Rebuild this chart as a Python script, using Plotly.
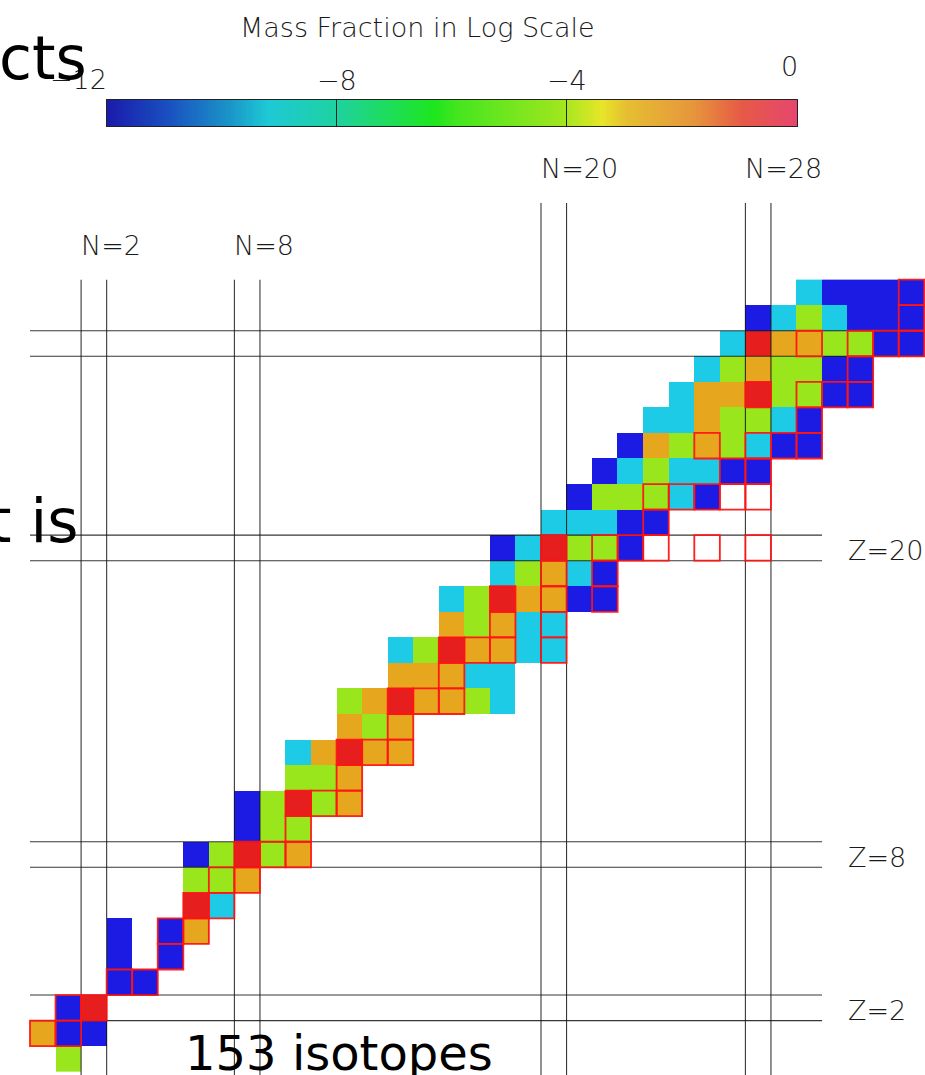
import numpy as np
import plotly.graph_objects as go

# ---------------- data ----------------
# one row per proton number Z: first neutron number N and colour class of each isotope
row_Z = list(range(0, 31))
row_first_N = [1, 0, 1, 3, 3, 3, 6, 6, 6, 8, 8, 10, 10, 12, 12, 14, 14, 16, 16, 18,
               18, 20, 21, 22, 23, 24, 25, 26, 27, 28, 30]
# B ~ 1e-10, C ~ 1e-8, G ~ 1e-6, O ~ 1e-3.5, R ~ 1e-1 ; W = stable isotope not in network ; . = none
row_codes = ["G", "OBB", "BR", "BB", "B.B", "B.BO", "RC", "GGO", "BGRGO", "BGG",
             "BGRGO", "GGO", "COROO", "OGO", "GOROOGC", "OOOCC", "CGROOCC", "OGOCC",
             "CGROOBB", "CGOCB", "BCRGGBW.W.W", "CCCBB", "BGGGCBWW", "BCGCCBB",
             "BOGOGCBB", "CCOGGCB", "COORGGBB", "CGOGGBB", "CROOGGBB", "BCGCBBB", "CBBBB"]
code_logX = {"B": -10.5, "C": -8.5, "G": -6.0, "O": -3.5, "R": -1.0}

# stable isotopes (outlined in red)
stable_Z = [1, 1, 2, 2, 3, 3, 4, 5, 5, 6, 6, 7, 7, 8, 8, 8, 9, 10, 10, 10, 11, 12, 12, 12,
            13, 14, 14, 14, 15, 16, 16, 16, 16, 17, 17, 18, 18, 18, 19, 19, 20, 20, 20, 20,
            20, 20, 21, 22, 22, 22, 22, 22, 23, 23, 24, 24, 24, 24, 25, 26, 26, 26, 26, 27,
            28, 28, 28, 28, 29, 30]
stable_N = [0, 1, 1, 2, 3, 4, 5, 5, 6, 6, 7, 7, 8, 8, 9, 10, 10, 10, 11, 12, 12, 12, 13, 14,
            14, 14, 15, 16, 16, 16, 17, 18, 20, 18, 20, 18, 20, 22, 20, 22, 20, 22, 23, 24,
            26, 28, 24, 24, 25, 26, 27, 28, 27, 28, 26, 28, 29, 30, 30, 28, 30, 31, 32, 32,
            30, 32, 33, 34, 34, 34]

# magic numbers
magic_N = [2, 8, 20, 28]
magic_N_top = [30.5, 30.5, 33.5, 33.5]
magic_Z = [2, 8, 20, 28]
magic_Z_end = [30.5, 30.5, 30.5, 36.5]
magic_Z_labelled = [2, 8, 20]

# colour bar
cbar_ticks = [-12, -8, -4, 0]
cbar_labels = ["\u221212", "\u22128", "\u22124", "0"]

# ---------------- build ----------------
N_max = 34
zmat = [[None] * (N_max + 1) for _ in row_Z]
for Z, n0, codes in zip(row_Z, row_first_N, row_codes):
    for i, c in enumerate(codes):
        if c in code_logX:
            zmat[Z][n0 + i] = code_logX[c]

cell_scale = [
    [0.0, "#1b1be3"], [0.2083, "#1b1be3"],
    [0.2083, "#1ecbe6"], [0.375, "#1ecbe6"],
    [0.375, "#98e61b"], [0.5833, "#98e61b"],
    [0.5833, "#e6a61e"], [0.8333, "#e6a61e"],
    [0.8333, "#e61e1e"], [1.0, "#e61e1e"],
]

bar_scale = [
    [0.0, "#1a1aaa"], [0.09, "#1a50c0"], [0.18, "#1a96c8"], [0.233, "#1ec8d6"],
    [0.333, "#1ed2a0"], [0.475, "#1ee61e"], [0.51, "#46e61e"], [0.66, "#a0e61e"],
    [0.717, "#e6e628"], [0.754, "#e6be32"], [0.85, "#e6963c"], [0.92, "#e65a46"],
    [1.0, "#e6466e"],
]

W, H = 925, 1075
px = 25.55
x0 = -0.5 - 30 / px
y_top_px = 1058.9

fig = go.Figure()
fig.add_trace(go.Heatmap(
    x=list(range(N_max + 1)), y=row_Z, z=zmat,
    colorscale=cell_scale, zmin=-12, zmax=0, showscale=False,
    hoverongaps=False, xaxis="x", yaxis="y"))

bar_x = np.linspace(cbar_ticks[0], cbar_ticks[-1], 400)
fig.add_trace(go.Heatmap(
    x=bar_x, y=[0], z=[bar_x], colorscale=bar_scale, zmin=-12, zmax=0,
    showscale=False, xaxis="x2", yaxis="y2", hoverinfo="skip"))

shapes = []
line_style = dict(color="rgba(20,20,20,0.85)", width=1.1)
for n, top in zip(magic_N, magic_N_top):
    for xv in (n - 0.5, n + 0.5):
        shapes.append(dict(type="line", xref="x", yref="y", x0=xv, x1=xv,
                           y0=-2, y1=top, line=line_style, layer="above"))
for zz, end in zip(magic_Z, magic_Z_end):
    for yv in (zz - 0.5, zz + 0.5):
        shapes.append(dict(type="line", xref="x", yref="y", x0=-0.5, x1=end,
                           y0=yv, y1=yv, line=line_style, layer="above"))
for zz, n in zip(stable_Z, stable_N):
    shapes.append(dict(type="rect", xref="x", yref="y", x0=n - 0.5, x1=n + 0.5,
                       y0=zz - 0.5, y1=zz + 0.5,
                       line=dict(color="rgba(255,20,20,0.95)", width=1.8), layer="above"))

label_font = dict(family="DejaVu Sans ExtraLight, DejaVu Sans Light, DejaVu Sans",
                  size=27, color="#1a1a1a", weight=200)
ann = []
for n, top in zip(magic_N, magic_N_top):
    ann.append(dict(x=n - 0.5, y=top + 1.35, xref="x", yref="y", text=f"N={n}",
                    showarrow=False, xanchor="left", yanchor="middle", xshift=-2,
                    font=label_font))
for zz in magic_Z_labelled:
    ann.append(dict(x=31.5, y=zz - 0.12, xref="x", yref="y", text=f"Z={zz}",
                    showarrow=False, xanchor="left", yanchor="middle", xshift=-2,
                    font=label_font))
# colour bar labels
for v, t in zip(cbar_ticks, cbar_labels):
    if v == cbar_ticks[0]:
        ann.append(dict(x=v, y=1 - 79 / H, xref="x2", yref="paper", text=t, showarrow=False,
                        xanchor="right", yanchor="middle", xshift=2, font=label_font))
    elif v == cbar_ticks[-1]:
        ann.append(dict(x=v, y=1 - 66 / H, xref="x2", yref="paper", text=t, showarrow=False,
                        xanchor="right", yanchor="middle", xshift=3, font=label_font))
    else:
        ann.append(dict(x=v, y=1 - 80 / H, xref="x2", yref="paper", text=t, showarrow=False,
                        xanchor="center", yanchor="middle", font=label_font))
ann.append(dict(x=417 / W, y=1 - 28 / H, xref="paper", yref="paper",
                text="Mass Fraction in Log Scale", showarrow=False,
                xanchor="center", yanchor="middle", font=label_font))

# overlaid slide text
slide_font = dict(family="DejaVu Sans", size=60, color="#000000")
ann.append(dict(x=89 / W, y=1 - 58 / H, xref="paper", yref="paper", text="cts",
                showarrow=False, xanchor="right", yanchor="middle", font=slide_font))
ann.append(dict(x=81 / W, y=1 - 521 / H, xref="paper", yref="paper", text="t is",
                showarrow=False, xanchor="right", yanchor="middle", font=slide_font))
ann.append(dict(x=183 / W, y=1 - 1053 / H, xref="paper", yref="paper", text="153 isotopes",
                showarrow=False, xanchor="left", yanchor="middle",
                font=dict(family="DejaVu Sans", size=48, color="#000000")))

fig.update_layout(
    width=W, height=H, margin=dict(l=0, r=0, t=0, b=0),
    paper_bgcolor="white", plot_bgcolor="white", showlegend=False,
    xaxis=dict(range=[x0, x0 + W / px], domain=[0, 1], visible=False, fixedrange=True),
    yaxis=dict(range=[(y_top_px - H) / px, y_top_px / px], domain=[0, 1],
               visible=False, fixedrange=True),
    xaxis2=dict(range=[cbar_ticks[0], cbar_ticks[-1]], domain=[106.5 / W, 797 / W],
                anchor="y2", side="top", showline=True, mirror=True, linecolor="#222",
                linewidth=1, ticks="inside", ticklen=26, tickcolor="#222", tickwidth=1,
                tickvals=cbar_ticks[1:-1], showticklabels=False, showgrid=False,
                zeroline=False, fixedrange=True),
    yaxis2=dict(range=[-0.5, 0.5], domain=[1 - 126 / H, 1 - 99.5 / H], anchor="x2",
                showline=True, mirror=True, linecolor="#222", linewidth=1,
                showticklabels=False, ticks="", showgrid=False, zeroline=False,
                fixedrange=True),
    shapes=shapes, annotations=ann,
)
fig.write_html(
    "out.html",
    config={"displayModeBar": False},
    post_script="document.body.style.margin='0px';document.body.style.padding='0px';"
                "document.body.style.overflow='hidden';",
)
